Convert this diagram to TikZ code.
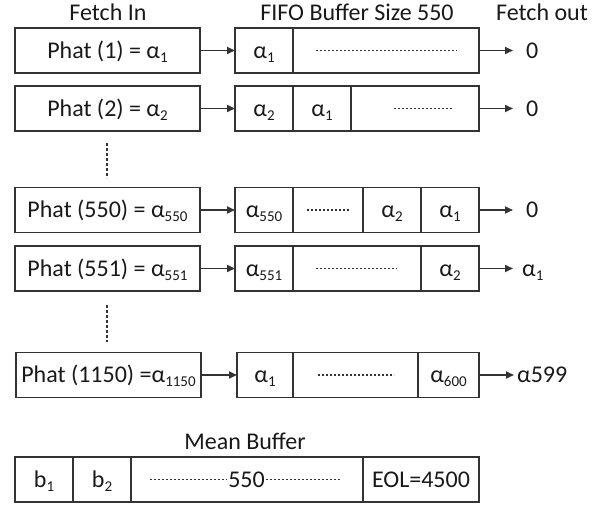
\documentclass[tikz,border=0pt]{standalone}
\usepackage{fontspec}
\setmainfont{Carlito}
\usetikzlibrary{arrows.meta}
\newcommand\sbs[1]{\raisebox{-4pt}{\fontsize{15}{15}\selectfont #1}}
\begin{document}
\begin{tikzpicture}[x=1pt,y=-1pt,
  every node/.style={font=\fontsize{24}{24}\selectfont, text=black!90},
  cell/.style={draw=black!80, line width=1.8pt, inner sep=0pt, outer sep=0pt,
    minimum height=45pt, text height=18pt, text depth=2.4pt},
  hdr/.style={inner sep=0pt, anchor=base},
  outlab/.style={inner sep=0pt, anchor=base west, text height=18pt, text depth=2.4pt},
  arr/.style={draw=black!80, line width=1.8pt, -{Triangle[length=8pt,width=7pt]}},
  dots/.style={draw=black!80, line width=1.2pt, dash pattern=on 2.4pt off 1.6pt},
  vdots/.style={draw=black!80, line width=1.8pt, dash pattern=on 3pt off 2pt}]
\useasboundingbox (0,0) rectangle (605,505);

% headers
\node[hdr] (h1) at (108,21) {Fetch In};
\node[hdr] (h2) at (357,21) {FIFO Buffer Size 550};
\node[hdr] (h3) at (542,21) {Fetch out};

% row 1
\node[cell, minimum width=185pt] (l1) at (107.5,50.5) {Phat (1) = α\sbs{1}};
\node[cell, minimum width=58pt] (a11) at (264,50.5) {α\sbs{1}};
\node[cell, minimum width=186pt] (a12) at (386,50.5) {};
\draw[dots] ([xshift=-70pt]a12.center) -- ([xshift=71pt]a12.center);
\node[outlab] (o1) at (526,58.3) {0};
\draw[arr] (l1.east) -- (a11.west);
\draw[arr] (a12.east) -- (a12.east -| o1.west) [shorten >=13pt];

% row 2
\node[cell, minimum width=185pt] (l2) at (107.5,108.5) {Phat (2) = α\sbs{2}};
\node[cell, minimum width=58pt] (a21) at (264,108.5) {α\sbs{2}};
\node[cell, minimum width=58pt] (a22) at (322,108.5) {α\sbs{1}};
\node[cell, minimum width=128pt] (a23) at (415,108.5) {};
\draw[dots] ([xshift=-21pt]a23.center) -- ([xshift=38pt]a23.center);
\node[outlab] (o2) at (526,116.3) {0};
\draw[arr] (l2.east) -- (a21.west);
\draw[arr] (a23.east) -- (a23.east -| o2.west) [shorten >=13pt];

% vertical dots
\coordinate (v1a) at (107,143);
\coordinate (v1b) at (107,178);
\draw[vdots] (v1a) -- (v1b);

% row 3
\node[cell, minimum width=185pt] (l3) at (107.5,210) {Phat (550) = α\sbs{550}};
\node[cell, minimum width=58pt] (a31) at (264,210) {α\sbs{550}};
\node[cell, minimum width=70pt] (a32) at (328,210) {};
\draw[dots] ([xshift=-21pt]a32.center) -- ([xshift=21pt]a32.center);
\node[cell, minimum width=58pt] (a33) at (392,210) {α\sbs{2}};
\node[cell, minimum width=58pt] (a34) at (450,210) {α\sbs{1}};
\node[outlab] (o3) at (526,217.8) {0};
\draw[arr] (l3.east) -- (a31.west);
\draw[arr] (a34.east) -- (a34.east -| o3.west) [shorten >=13pt];

% row 4
\node[cell, minimum width=185pt] (l4) at (107.5,268.5) {Phat (551) = α\sbs{551}};
\node[cell, minimum width=58pt] (a41) at (264,268.5) {α\sbs{551}};
\node[cell, minimum width=128pt] (a42) at (357,268.5) {};
\draw[dots] ([xshift=-41pt]a42.center) -- ([xshift=40pt]a42.center);
\node[cell, minimum width=58pt] (a43) at (450,268.5) {α\sbs{2}};
\node[outlab] (o4) at (522,276.3) {α\sbs{1}};
\draw[arr] (l4.east) -- (a41.west);
\draw[arr] (a43.east) -- (a43.east -| o4.west) [shorten >=9pt];

% vertical dots
\coordinate (v2a) at (107,305);
\coordinate (v2b) at (107,342);
\draw[vdots] (v2a) -- (v2b);

% row 5
\node[cell, minimum width=185pt] (l5) at (108.5,375) {Phat (1150) =α\sbs{1150}};
\node[cell, minimum width=56pt] (a51) at (265,375) {α\sbs{1}};
\node[cell, minimum width=125pt] (a52) at (355.5,375) {};
\draw[dots] ([xshift=-38pt]a52.center) -- ([xshift=38pt]a52.center);
\node[cell, minimum width=61pt] (a53) at (448.5,375) {α\sbs{600}};
\node[outlab] (o5) at (517,382.8) {α599};
\draw[arr] (l5.east) -- (a51.west);
\draw[arr] (a53.east) -- (a53.east -| o5.west) [shorten >=3pt];

% mean buffer
\node[hdr] (h4) at (245,449) {Mean Buffer};
\node[cell, minimum width=58pt] (m1) at (44,479.5) {b\sbs{1}};
\node[cell, minimum width=58pt] (m2) at (102,479.5) {b\sbs{2}};
\node[cell, minimum width=232pt] (m3) at (247,479.5) {};
\draw[dots] ([xshift=-97pt]m3.center) -- ([xshift=94pt]m3.center);
\node[fill=white, inner sep=1pt, text height=18pt, text depth=2.4pt] (m550) at (246.5,479.5) {550};
\node[cell, minimum width=116pt] (m4) at (421,479.5) {EOL=4500};
\end{tikzpicture}
\end{document}
